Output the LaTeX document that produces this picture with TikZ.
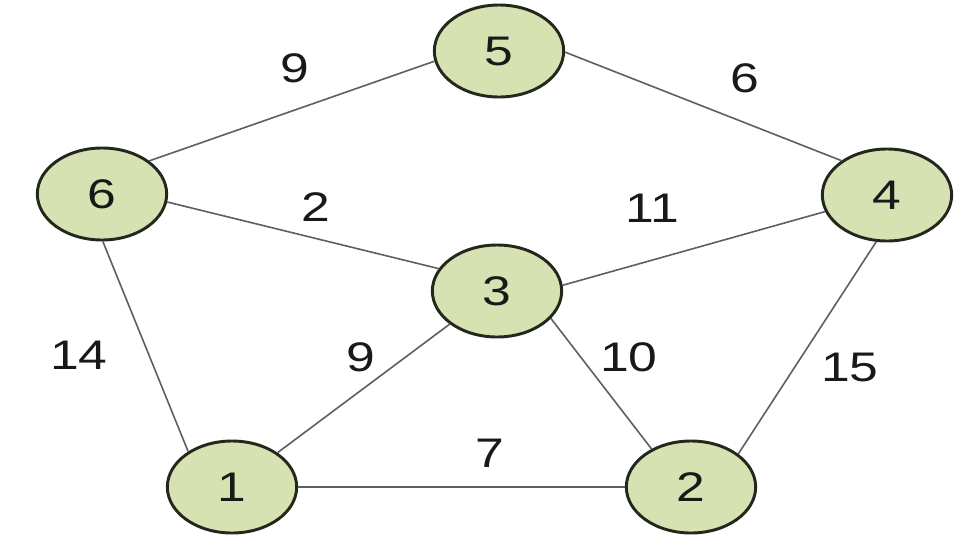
\documentclass[tikz,border=0pt]{standalone}
\usepackage{fontspec}
\usetikzlibrary{shapes.geometric}
\newfontfamily\digfont[FakeStretch=1.25]{Liberation Sans}
\definecolor{nodefill}{RGB}{214,226,178}
\definecolor{nodeborder}{RGB}{36,40,28}
\definecolor{edgecol}{RGB}{95,95,95}
\definecolor{txtcol}{RGB}{25,25,25}
\tikzset{
  vert/.style={ellipse, draw=nodeborder, line width=2.2pt, fill=nodefill,
    minimum width=97pt, minimum height=69pt, inner sep=0pt,
    font=\digfont\fontsize{31}{31}\selectfont, text=txtcol},
  edge/.style={draw=edgecol, line width=1.2pt},
  lbl/.style={inner sep=0pt, font=\digfont\fontsize{31}{31}\selectfont, text=txtcol}
}
\begin{document}
\begin{tikzpicture}[x=0.75pt,y=-0.75pt]
\useasboundingbox[fill=white] (0,0) rectangle (961,540);
% vertices
\node[vert] (n5) at (499,51) {5};
\node[vert] (n6) at (102,194) {6};
\node[vert] (n4) at (887,195) {4};
\node[vert] (n3) at (497,291) {3};
\node[vert] (n1) at (232,487) {1};
\node[vert] (n2) at (691,487) {2};
% edges
\draw[edge] (n6.35) -- (n5.189);
\draw[edge] (n5.-1) -- (n4.143);
\draw[edge] (n6.-7) -- (n3.159);
\draw[edge] (n3.5) -- (n4.195);
\draw[edge] (n6.-89) -- (n1.141);
\draw[edge] (n3.215) -- (n1.37);
\draw[edge] (n3.-27) -- (n2.136);
\draw[edge] (n4.257) -- (n2.35);
\draw[edge] (n1.0) -- (n2.180);
% edge labels
\node[lbl] (l65) at (295,68) {9};
\node[lbl] (l54) at (745,78) {6};
\node[lbl] (l63) at (316,207) {2};
\node[lbl] (l34) at (652,208) {11};
\node[lbl] (l61) at (79,355) {14};
\node[lbl] (l31) at (361,357) {9};
\node[lbl] (l32) at (629,357) {10};
\node[lbl] (l42) at (850,367) {15};
\node[lbl] (l12) at (490,453) {7};
\end{tikzpicture}
\end{document}
